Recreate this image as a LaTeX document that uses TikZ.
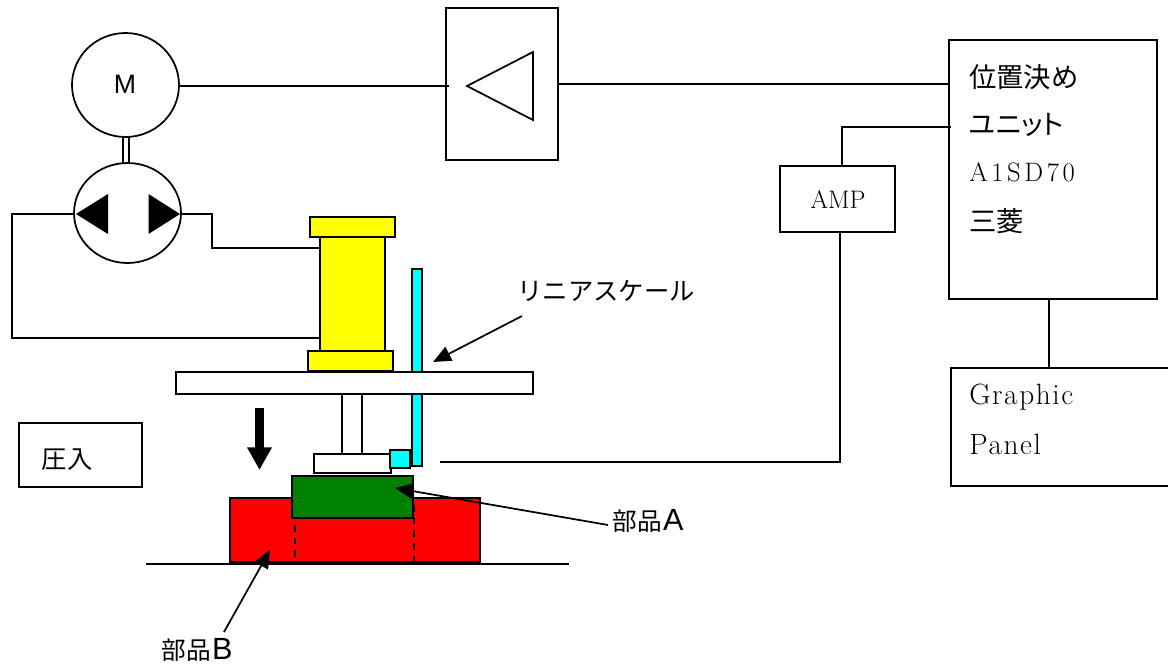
\documentclass[tikz,border=0pt]{standalone}
\usepackage{fontspec}
\setmainfont{Latin Modern Roman}
\newfontfamily\jp{Noto Sans CJK JP}
\newfontfamily\jpp[RawFeature=+palt]{Noto Sans CJK JP}
\newfontfamily\hv{Liberation Sans}
\newfontfamily\spc[LetterSpace=5.5]{Latin Modern Roman}
\newfontfamily\spcw[LetterSpace=13.5]{Latin Modern Roman}
\usetikzlibrary{arrows.meta,shapes.geometric}
\definecolor{pxcyan}{RGB}{0,255,255}
\definecolor{pxyellow}{RGB}{255,255,0}
\definecolor{pxred}{RGB}{255,0,0}
\definecolor{pxgreen}{RGB}{0,128,0}
\newcommand{\pxbox}[6]{%
  \pgfmathsetmacro{\pw}{(#4-#2)*0.75}\pgfmathsetmacro{\ph}{(#5-#3)*0.75}%
  \node[partbox,minimum width=\pw pt,minimum height=\ph pt,#6] (#1) at ({(#2+#4)/2},{(#3+#5)/2}) {};}
\newcommand{\pxell}[5]{%
  \pgfmathsetmacro{\pw}{#4*1.5}\pgfmathsetmacro{\ph}{#5*1.5}%
  \node[circ,minimum width=\pw pt,minimum height=\ph pt] (#1) at (#2,#3) {};}
\newcommand{\partlabel}[1]{{\jp\fontsize{18.5}{18.5}\selectfont 部品}\hspace{1pt}{\hv\fontsize{23}{23}\selectfont #1}}
\tikzset{
  x=0.75pt,y=-0.75pt,
  partbox/.style={draw=black,line width=1.3pt,inner sep=0pt,outer sep=0pt,rectangle},
  circ/.style={draw=black,line width=1.3pt,inner sep=0pt,outer sep=0pt,ellipse},
  wire/.style={draw=black,line width=1.3pt},
  solidtri/.style={fill=black,draw=none},
  ptr/.style={draw=black,line width=1.3pt,-{Triangle[length=13.5pt,width=11.5pt]}},
  jlabel/.style={font=\jp\fontsize{19}{19}\selectfont,inner sep=0pt,text=black},
  unitjp/.style={font=\jp\fontsize{20.5}{20.5}\selectfont,inner sep=0pt,anchor=west,text=black},
  slabel/.style={font=\spc\fontsize{22}{22}\selectfont,inner sep=0pt,anchor=west,text=black},
  hiddenedge/.style={line width=1.5pt,dash pattern=on 5pt off 4.5pt},
}
\begin{document}
\begin{tikzpicture}
\useasboundingbox (0,0) rectangle (1168,664);
\fill[white] (0,0) rectangle (1168,664);
% motor, pump
\pxell{motor}{125.5}{85}{53.5}{52}
\pxell{pump}{127.5}{213}{53.5}{50}
\node[font=\hv\fontsize{20}{20}\selectfont,inner sep=0pt] (mlabel) at (125,84) {M};
\coordinate (shL1) at (123,136); \coordinate (shL2) at (123,163);
\coordinate (shR1) at (129,136); \coordinate (shR2) at (129,163);
\draw[wire] (shL1) -- (shL2);
\draw[wire] (shR1) -- (shR2);
\coordinate (lt1) at (76,214); \coordinate (lt2) at (108,194); \coordinate (lt3) at (108,234);
\coordinate (rt1) at (180,214); \coordinate (rt2) at (148.5,194); \coordinate (rt3) at (148.5,234);
\fill[solidtri] (lt1) -- (lt2) -- (lt3) -- cycle;
\fill[solidtri] (rt1) -- (rt2) -- (rt3) -- cycle;
% cylinder
\pxbox{scale}{412}{269}{422}{466}{fill=pxcyan}
\pxbox{capT}{310}{217}{395}{237}{fill=pxyellow}
\pxbox{body}{320}{237}{385}{351}{fill=pxyellow}
\pxbox{capB}{308}{351}{393}{371}{fill=pxyellow}
\pxbox{plate}{176}{372}{533}{394}{fill=white}
\pxbox{rod}{342}{394}{362}{454}{fill=white}
\pxbox{red}{230}{498}{480}{562}{fill=pxred}
\pxbox{head}{314}{454}{391}{473}{fill=white}
\pxbox{sensor}{390}{450}{410}{468}{fill=pxcyan}
\pxbox{green}{292}{476}{413}{518}{fill=pxgreen}
\coordinate (d1a) at (294.5,525); \coordinate (d1b) at (294.5,562);
\coordinate (d2a) at (414,505); \coordinate (d2b) at (414,562);
\draw[hiddenedge] (d1a) -- (d1b);
\draw[hiddenedge] (d2a) -- (d2b);
\coordinate (g1) at (146,564); \coordinate (g2) at (569,564);
\draw[wire] (g1) -- (g2);
% wires from pump to cylinder
\coordinate (wl1) at (12,214); \coordinate (wl2) at (12,338);
\coordinate (wr1) at (212,214); \coordinate (wr2) at (212,248);
\draw[wire] (pump.west |- wl1) -- (wl1) -- (wl2) -- (wl2 -| body.west);
\draw[wire] (pump.east |- wr1) -- (wr1) -- (wr2) -- (wr2 -| body.west);
% press arrow
\coordinate (pa1) at (259.5,408); \coordinate (pa2) at (259.5,470);
\draw[-{Triangle[length=17pt,width=17.5pt]},line width=6.5pt] (pa1) -- (pa2);
\pxbox{press}{19}{423}{142}{487}{}
\node[jlabel] (presstxt) at (67,460) {圧入};
% amp
\pxbox{amp}{446}{8}{558}{160}{}
\coordinate (at1) at (533,52); \coordinate (at2) at (533,120); \coordinate (at3) at (467,86);
\draw[wire] (at1) -- (at2) -- (at3) -- cycle;
\pxbox{unit}{949}{40}{1157}{299}{}
\pxbox{ampb}{780}{166}{895}{232}{}
\pxbox{panel}{951}{368}{1175}{486}{}
\coordinate (mj) at (449,85.7);
\draw[wire] (motor.east |- mj) -- (mj);
\coordinate (aj) at (949,84);
\draw[wire] (amp.east |- aj) -- (aj);
\coordinate (u1) at (951,127); \coordinate (u2) at (842,127);
\draw[wire] (u1) -- (u2) -- (u2 |- ampb.north);
\coordinate (a1) at (840,232); \coordinate (a2) at (840,462); \coordinate (a3) at (440,462);
\draw[wire] (a1) -- (a2) -- (a3);
\coordinate (p1) at (1049,299); \coordinate (p2) at (1049,368);
\draw[wire] (p1) -- (p2);
% labels
\node[unitjp] (t1) at (969,77) {位置決め};
\node[unitjp,font=\jpp\fontsize{20.5}{20.5}\selectfont] (t2) at (969,125) {ユニット};
\node[slabel,font=\spcw\fontsize{20}{20}\selectfont] (t3) at (969,172) {A1SD70};
\node[unitjp] (t4) at (969,221) {三菱};
\node[font=\fontsize{19}{19}\selectfont,inner sep=0pt] (amptxt) at (838,200) {AMP};
\node[slabel] (g1t) at (969,397) {Graphic};
\node[slabel] (g2t) at (969,444) {Panel};
\node[jlabel] (scaletxt) at (606,291) {リニアスケール};
\node[inner sep=0pt] (atxt) at (648,521) {\partlabel{A}};
\node[inner sep=0pt] (btxt) at (197,650) {\partlabel{B}};
% pointers
\coordinate (s1) at (522,316); \coordinate (s2) at (433,362);
\coordinate (pa) at (608,525); \coordinate (pae) at (395,488);
\coordinate (pb) at (224,632); \coordinate (pbe) at (270,550);
\draw[ptr] (s1) -- (s2);
\draw[ptr] (pa) -- (pae);
\draw[ptr] (pb) -- (pbe);
\end{tikzpicture}
\end{document}
